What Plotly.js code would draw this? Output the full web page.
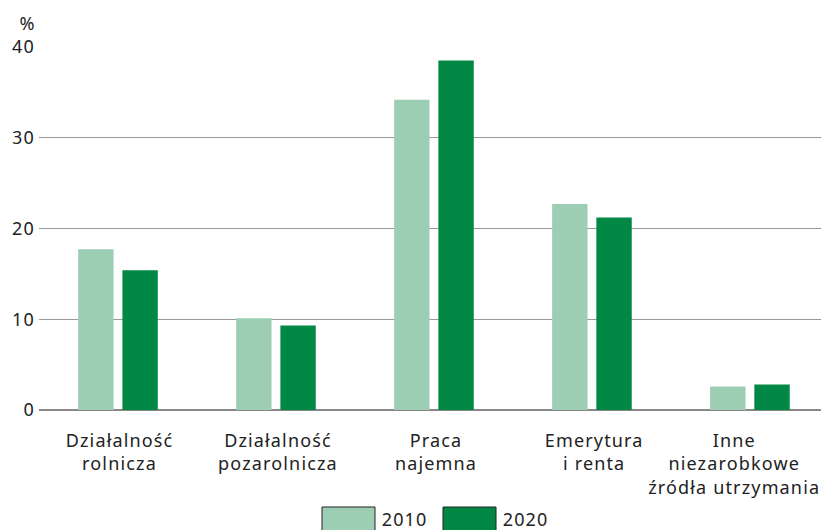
<!DOCTYPE html>
<html><head><meta charset="utf-8">
<script src="https://cdn.plot.ly/plotly-3.0.1.min.js"></script>
<style>body{margin:0;background:#fff}#c{width:821px;height:530px}#c text{letter-spacing:1.15px}</style>
</head><body><div id="c"></div>
<script>
const categories = ["Działalność rolnicza","Działalność pozarolnicza","Praca najemna","Emerytura i renta","Inne niezarobkowe źródła utrzymania"];
const tickLabels = ["Działalność<br>rolnicza","Działalność<br>pozarolnicza","Praca<br>najemna","Emerytura<br>i renta","Inne<br>niezarobkowe<br>źródła utrzymania"];
const years = ["2010","2020"];
const values2010 = [17.7, 10.1, 34.2, 22.7, 2.6];
const values2020 = [15.4, 9.3, 38.5, 21.2, 2.8];
const tickVals = [0,10,20,30,40];

const colors = ["#9dceb3","#008844"];
const font = "Noto Sans, sans-serif";
const fs = 18;
const traces = [values2010, values2020].map((v,i)=>({
  type:"bar", x:categories, y:v, name:years[i], showlegend:false,
  marker:{color:colors[i]}
}));

const shapes = [];
const annotations = [{text:"%", xref:"paper", yref:"paper", x:-0.002, y:1.028, xanchor:"right", yanchor:"bottom", showarrow:false, font:{family:font,size:fs,color:"#222"}}];
categories.forEach((c,i)=>{
  annotations.push({text:tickLabels[i], xref:"x", yref:"y", x:c, y:0, xanchor:"center", yanchor:"top",
    yshift:-16, xshift:(i===categories.length-1?-16:2), showarrow:false, align:"center",
    font:{family:font,size:fs,color:"#222"}});
});
const legX = [322, 443];
years.forEach((y,i)=>{
  const x0 = legX[i];
  shapes.push({type:"rect", xref:"paper", yref:"paper",
    x0:(x0-39)/782, x1:(x0+53-39)/782, y0:(410-507)/363, y1:(410-532)/363,
    fillcolor:colors[i], line:{color:"#222",width:1}});
  annotations.push({text:y, xref:"paper", yref:"paper", x:(x0+60-39)/782, y:(410-519)/363,
    xanchor:"left", yanchor:"middle", showarrow:false, font:{family:font,size:fs,color:"#222"}});
});

Plotly.newPlot("c", traces, {
  width:821, height:530,
  margin:{l:39, r:0, t:47, b:120},
  paper_bgcolor:"#fff", plot_bgcolor:"#fff",
  barmode:"group", bargap:0.44, bargroupgap:0.2,
  font:{family:font, size:fs, color:"#222"},
  xaxis:{range:[-0.5,4.45], showgrid:false, showline:false, zeroline:false, ticks:"", showticklabels:false, automargin:false},
  yaxis:{range:[0,40], tickvals:tickVals, showgrid:true, gridcolor:"#999", gridwidth:1, zeroline:true, zerolinecolor:"#888", zerolinewidth:1.5, ticks:"", tickfont:{size:fs}, automargin:false, fixedrange:true, ticklabelstandoff:3},
  shapes:shapes, annotations:annotations
}, {staticPlot:true});
</script></body></html>
